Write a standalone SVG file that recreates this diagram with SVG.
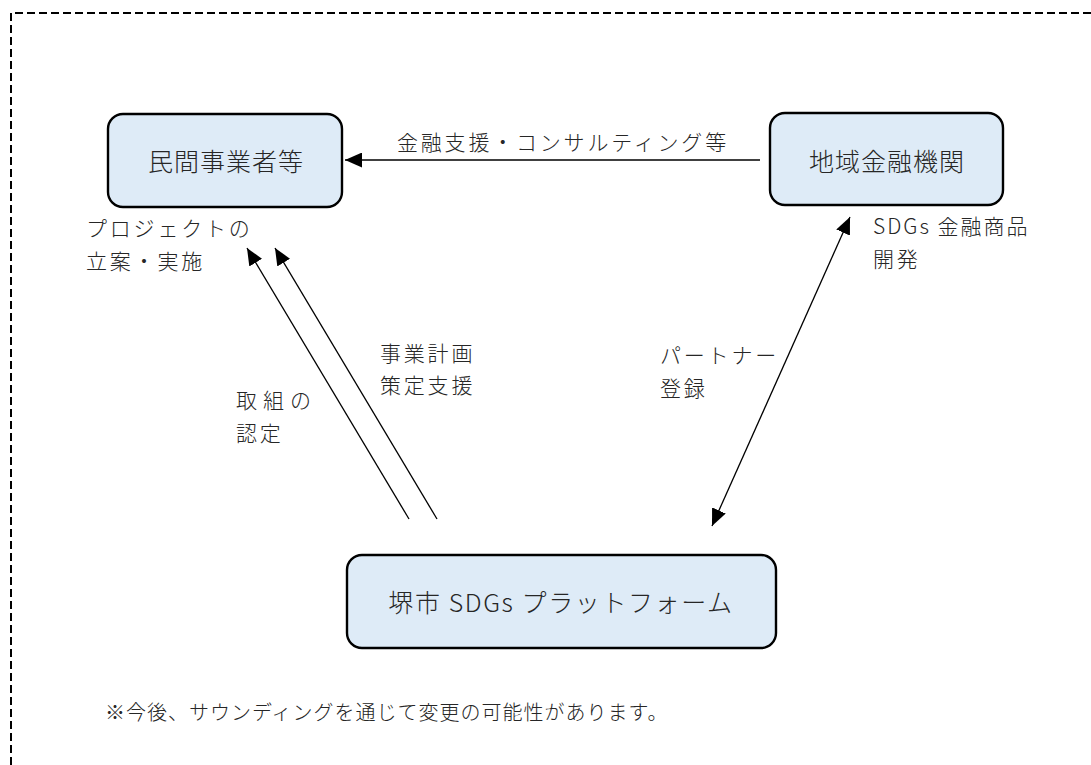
<svg xmlns="http://www.w3.org/2000/svg" width="1091" height="765" viewBox="0 0 1091 765">
<defs>
<style>
.node{fill:#DEEBF7;stroke:#000;stroke-width:2.4}
.nt{font-family:"Noto Sans CJK JP","Noto Sans",sans-serif;font-size:25px;font-weight:300;fill:#262626;text-anchor:middle;letter-spacing:1px}
.lb{font-family:"Noto Sans CJK JP","Noto Sans",sans-serif;font-size:21px;font-weight:300;fill:#262626;letter-spacing:2.8px}
.ln{stroke:#000;stroke-width:1.3;fill:none}
</style>
<marker id="ah" markerUnits="userSpaceOnUse" markerWidth="18" markerHeight="15" refX="17" refY="7.5" orient="auto-start-reverse" viewBox="0 0 18 15">
<path d="M0,0 L17,7.5 L0,15 z" fill="#000"/>
</marker>
</defs>
<rect width="1091" height="765" fill="#fff"/>
<path d="M11,765 V13 H1091" fill="none" stroke="#000" stroke-width="2" stroke-dasharray="8,4"/>
<g id="connectors">
<line class="ln" x1="760" y1="160" x2="345" y2="160" marker-end="url(#ah)"/>
<line class="ln" x1="409" y1="519" x2="247" y2="248" marker-end="url(#ah)"/>
<line class="ln" x1="437" y1="519" x2="275" y2="248" marker-end="url(#ah)"/>
<line class="ln" x1="712" y1="526" x2="850" y2="217" marker-start="url(#ah)" marker-end="url(#ah)"/>
</g>
<g id="node-minkan">
<rect class="node" x="108" y="114" width="234" height="93" rx="15"/>
<text class="nt" x="226" y="171">民間事業者等</text>
</g>
<g id="node-chiiki">
<rect class="node" x="770" y="113" width="233" height="92" rx="15"/>
<text class="nt" x="887" y="171">地域金融機関</text>
</g>
<g id="node-platform">
<rect class="node" x="347" y="555" width="429" height="93" rx="15"/>
<text class="nt" x="561" y="612" style="letter-spacing:1.6px">堺市 SDGs プラットフォーム</text>
</g>
<g id="labels">
<text class="lb" x="397" y="150">金融支援・コンサルティング等</text>
<text class="lb" x="86" y="236">プロジェクトの</text>
<text class="lb" x="86" y="269">立案・実施</text>
<text class="lb" x="873" y="234" style="letter-spacing:2px">SDGs 金融商品</text>
<text class="lb" x="873" y="267">開発</text>
<text class="lb" x="380" y="361">事業計画</text>
<text class="lb" x="380" y="393">策定支援</text>
<text class="lb" x="236" y="408" style="letter-spacing:6px">取組の</text>
<text class="lb" x="236" y="441">認定</text>
<text class="lb" x="660" y="363">パートナー</text>
<text class="lb" x="660" y="396">登録</text>
<text class="lb" x="105" y="720" style="font-size:20px;letter-spacing:1px">※今後、サウンディングを通じて変更の可能性があります。</text>
</g>
</svg>
